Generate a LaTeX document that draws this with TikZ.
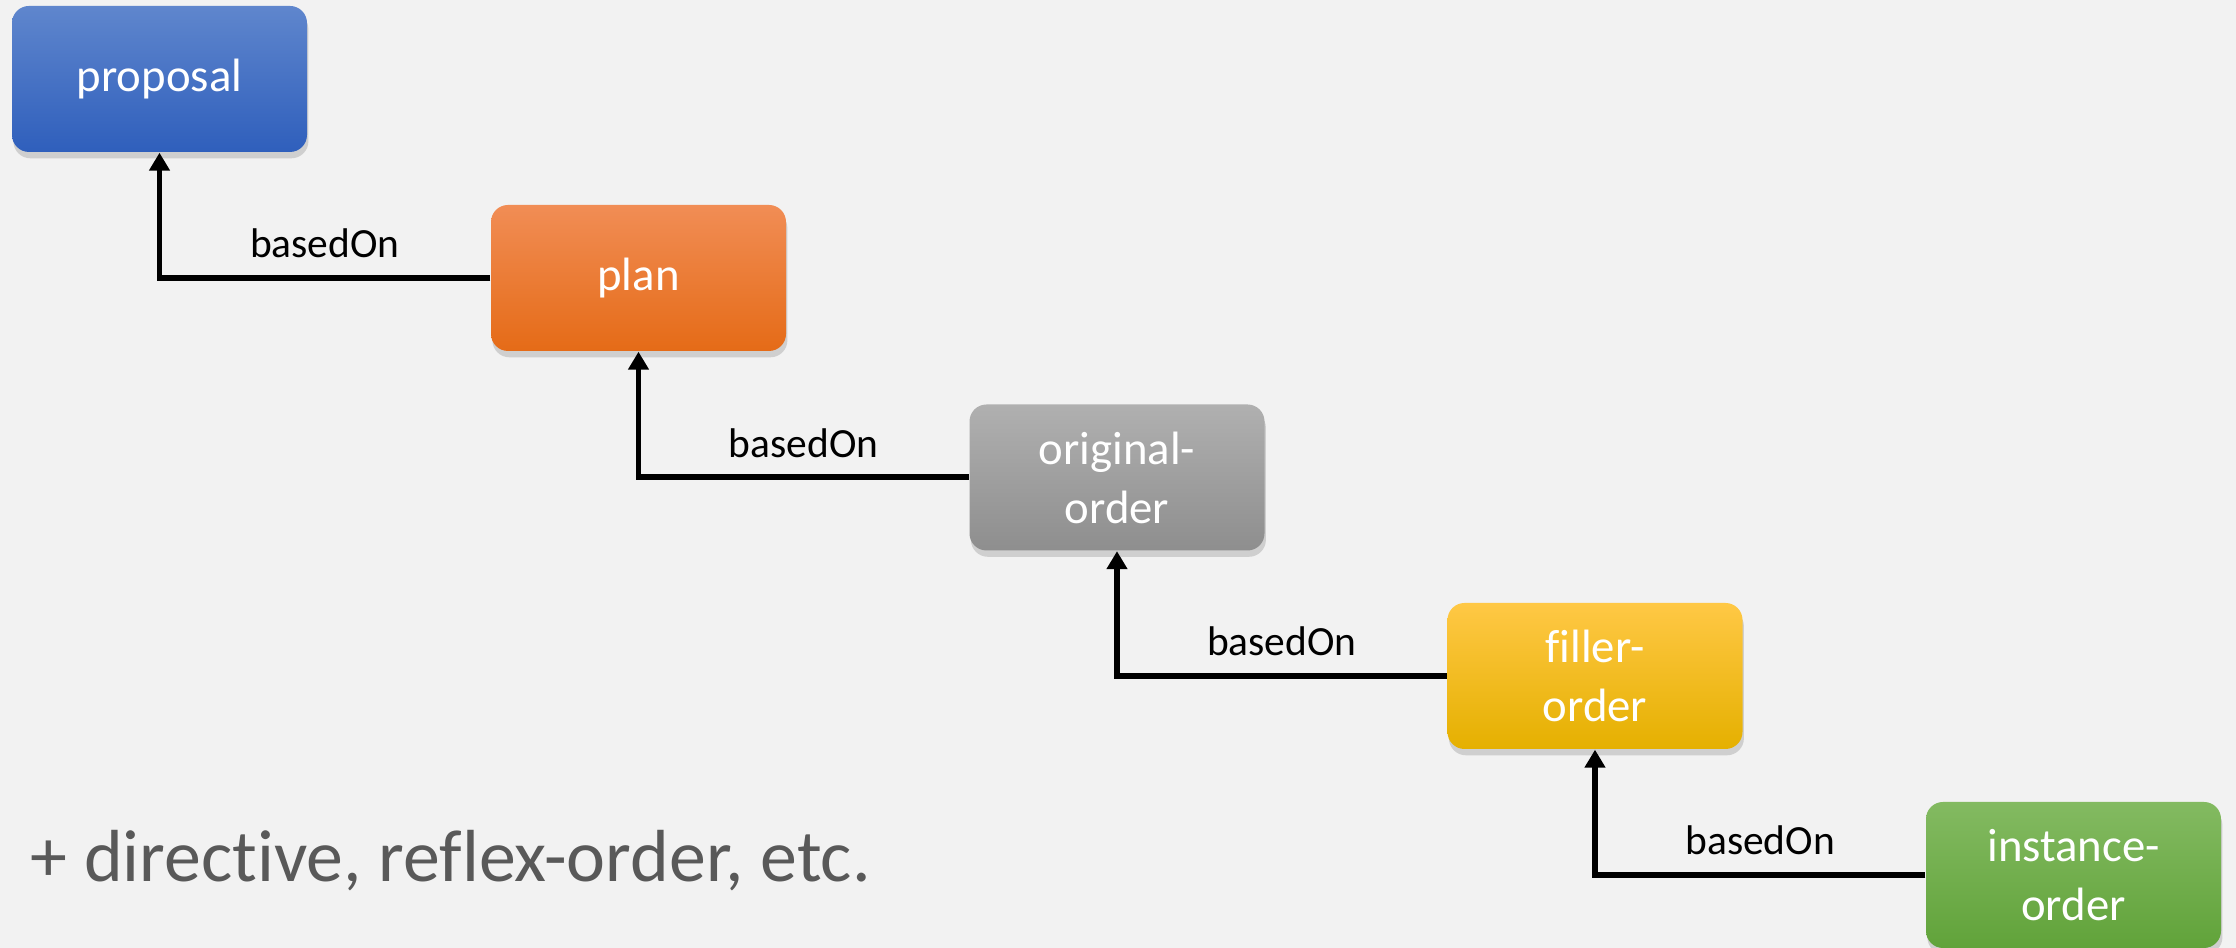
\documentclass[tikz,border=0pt]{standalone}
\usepackage{fontspec}
\setmainfont[Ligatures=NoCommon]{Carlito}
\usepackage{tikz}
\usetikzlibrary{arrows.meta,shadows}

\definecolor{bgcolor}{HTML}{F2F2F2}
\definecolor{notegray}{HTML}{595959}

\tikzset{
    box/.style={rounded corners=0.17cm, minimum width=2.95cm, minimum height=1.46cm,
        align=center, text=white, font=\fontsize{13.3}{16.8}\selectfont,
        drop shadow={opacity=0.3, shadow xshift=0.4pt, shadow yshift=-1.8pt}},
    basedon/.style={line width=1.7pt, -{Triangle[width=0.2cm,length=0.18cm]}},
    lbl/.style={font=\fontsize{11.8}{14}\selectfont, above=1.5pt}
}

\begin{document}
\begin{tikzpicture}
        \fill[bgcolor] (0,0) rectangle (22.36,9.48);
        \useasboundingbox (0,0) rectangle (22.36,9.48);

        \node[box, top color={rgb,255:red,95;green,134;blue,205}, bottom color={rgb,255:red,47;green,95;blue,188}] (proposal) at (1.595,8.69) {proposal};
        \node[box, top color={rgb,255:red,241;green,141;blue,85}, bottom color={rgb,255:red,229;green,107;blue,23}] (plan) at (6.385,6.70) {plan};
        \node[box, top color={rgb,255:red,176;green,176;blue,176}, bottom color={rgb,255:red,142;green,142;blue,142}] (original) at (11.17,4.705) {original-\\order};
        \node[box, top color={rgb,255:red,255;green,200;blue,69}, middle color={rgb,255:red,255;green,192;blue,0}, bottom color={rgb,255:red,229;green,176;blue,0}] (filler) at (15.95,2.72) {filler-\\order};
        \node[box, top color={rgb,255:red,131;green,186;blue,97}, bottom color={rgb,255:red,97;green,163;blue,58}] (instance) at (20.735,0.73) {instance-\\order};

        \foreach \a/\b in {plan/proposal, original/plan, filler/original, instance/filler}
            \draw[basedon] (\a.west) -| node[lbl, pos=0.25] {basedOn} (\b.south);

        \node[anchor=base west, inner sep=0, text=notegray, font=\fontsize{21}{25}\selectfont] (note) at (0.30,0.66) {+ directive, reflex-order, etc.};
    \end{tikzpicture}
\end{document}
